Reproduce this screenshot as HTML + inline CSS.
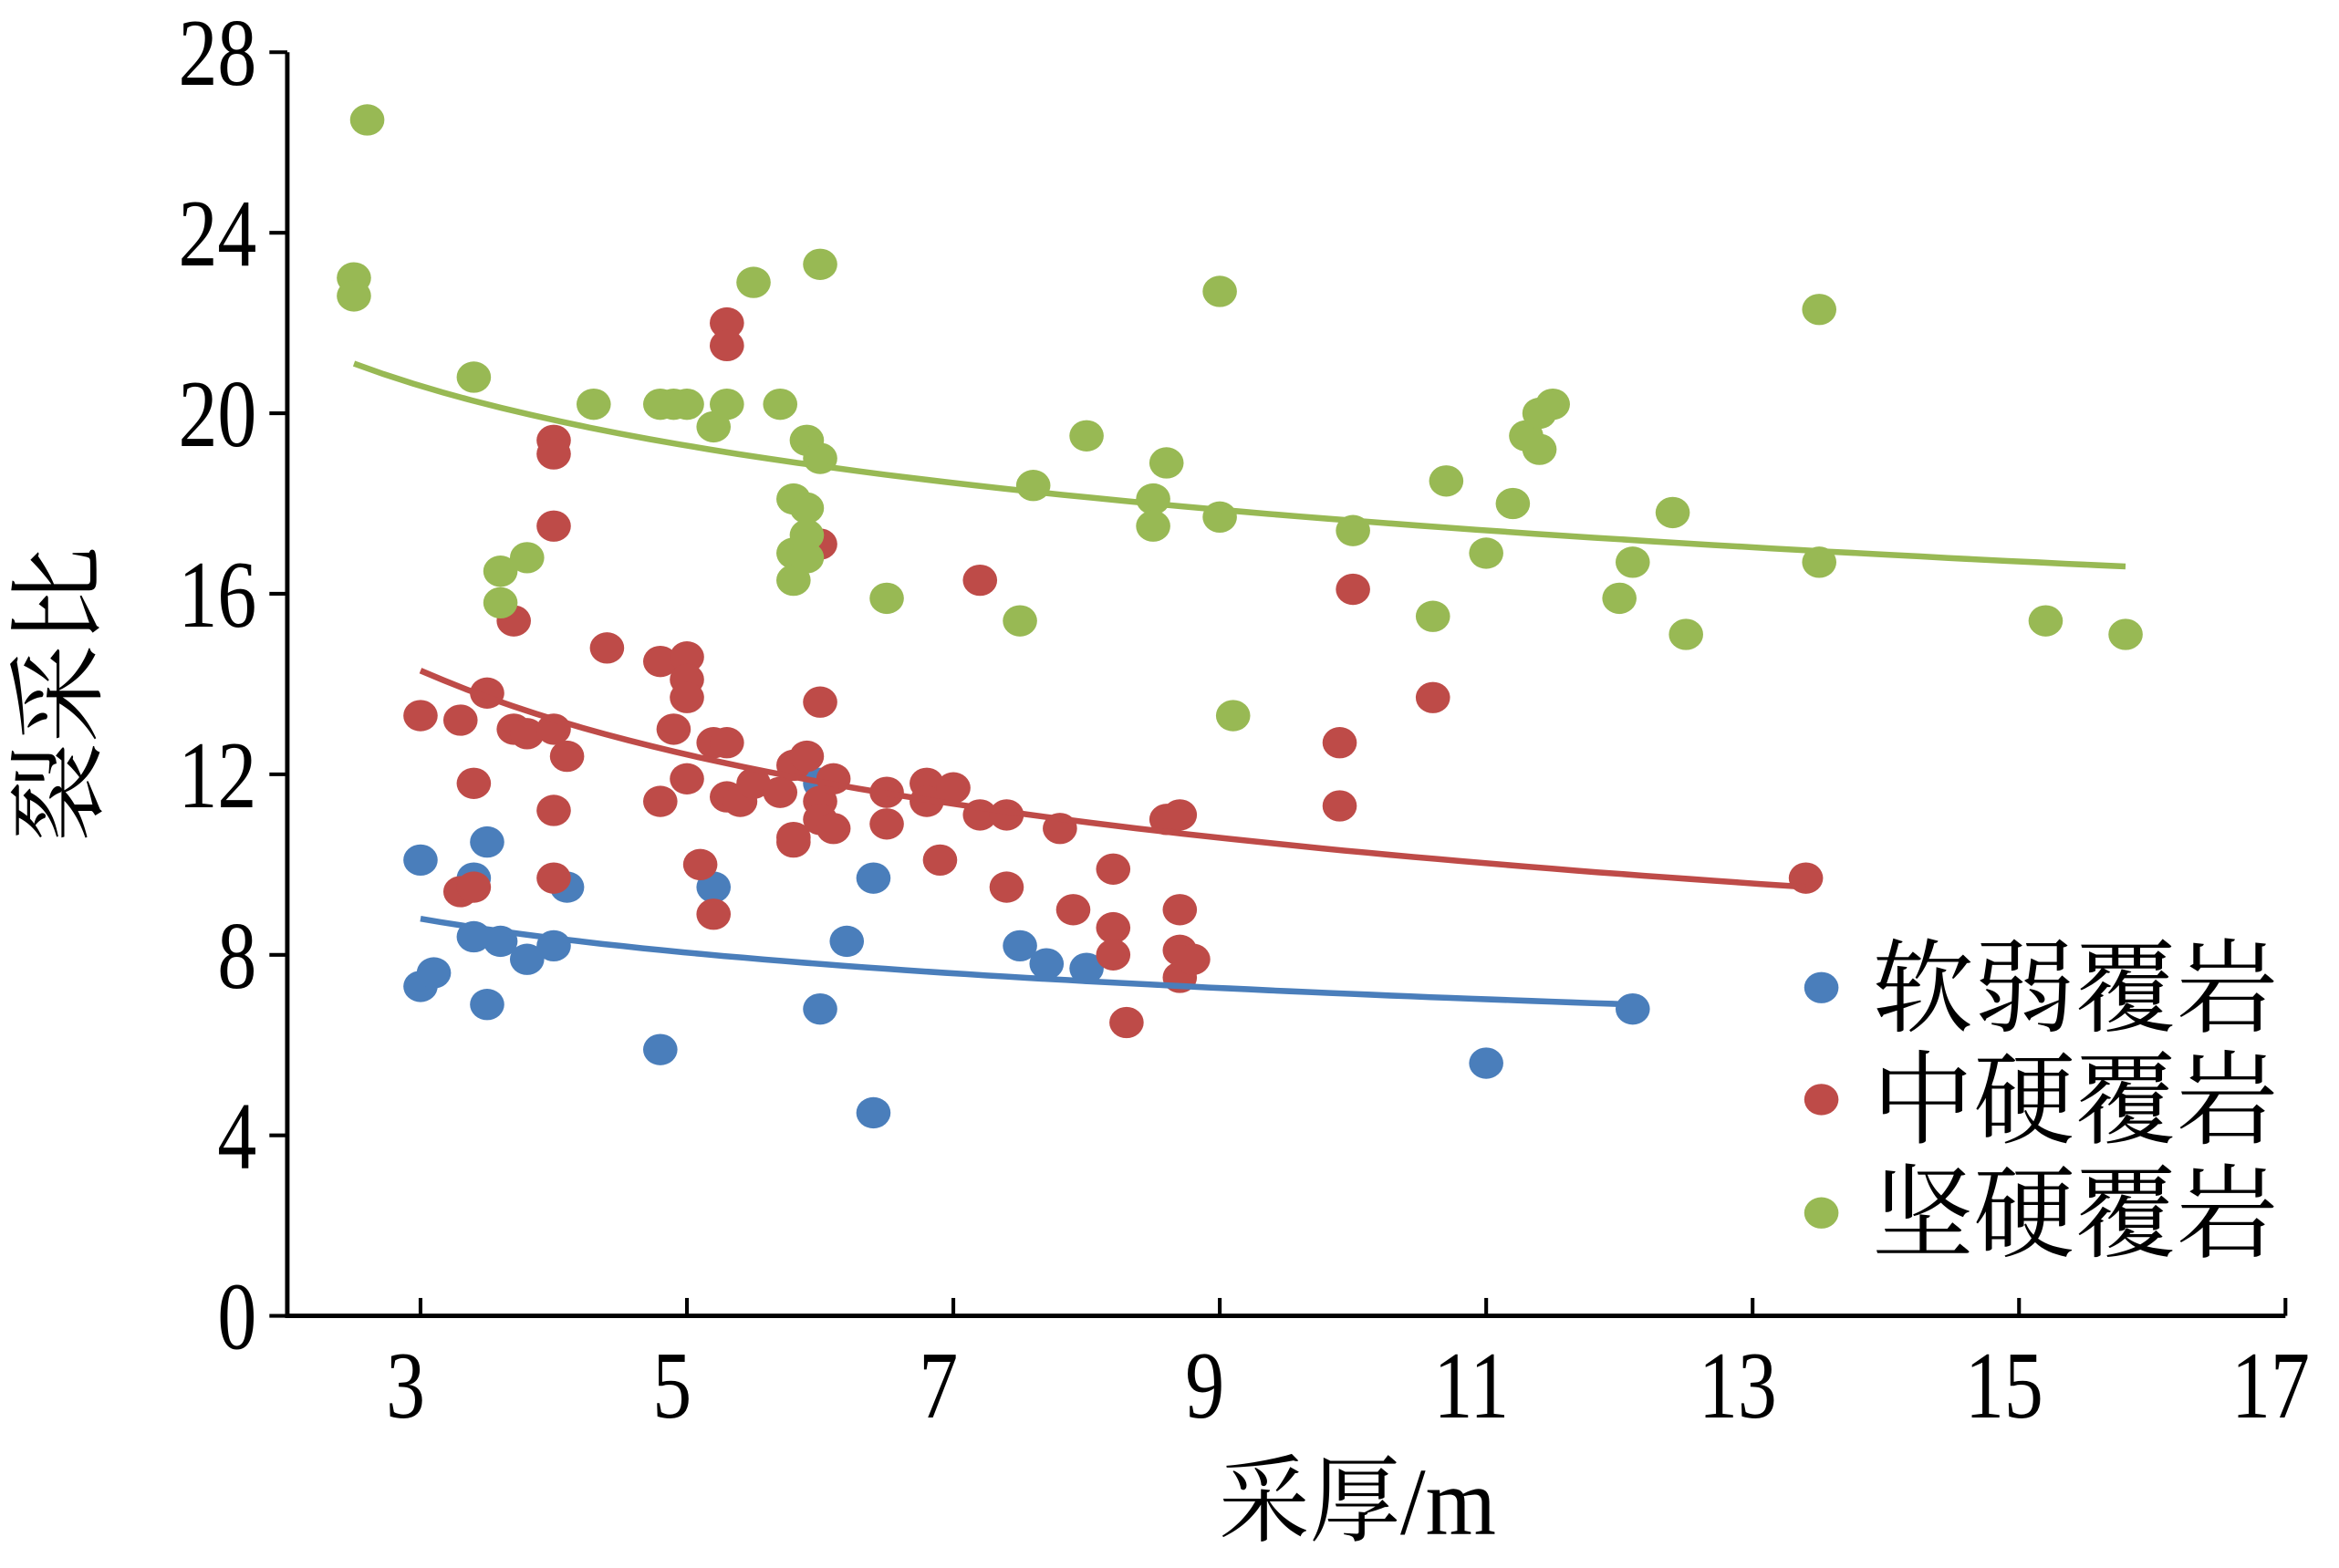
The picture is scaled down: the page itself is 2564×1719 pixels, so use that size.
<!DOCTYPE html>
<html><head><meta charset="utf-8"><style>
html,body{margin:0;padding:0;background:#fff;}
svg{display:block;}
text{font-family:"Liberation Serif","Noto Serif CJK SC",serif;fill:#000;}
</style></head><body>
<svg id="chart" width="2564" height="1719" viewBox="0 0 1568 1051" preserveAspectRatio="none" xmlns="http://www.w3.org/2000/svg"></svg>
<script>
const xTicks=[3,5,7,9,11,13,15,17];
const yTicks=[0,4,8,12,16,20,24,28];
const softX=[3,3,3.1,3.4,3.4,3.5,3.5,3.6,3.8,4,4.1,4.8,5.2,6,6,6.2,6.4,6.4,7.5,7.7,8,11,12.1];
const softY=[10.1,7.3,7.6,9.7,8.4,10.5,6.9,8.3,7.9,8.2,9.5,5.9,9.5,11.8,6.8,8.3,9.7,4.5,8.2,7.8,7.7,5.6,6.8];
const medX=[3,3.3,3.3,3.4,3.4,3.5,3.7,3.7,3.8,4,4,4,4,4,4,4.1,4.4,4.8,4.8,4.9,5,5,5,5,5.1,5.2,5.2,5.3,5.3,5.3,5.3,5.4,5.5,5.7,5.8,5.8,5.8,5.9,6,6,6,6,6.1,6.1,6.5,6.5,6.8,6.8,6.9,7,7.2,7.2,7.4,7.4,7.8,7.9,8.2,8.2,8.2,8.3,8.6,8.7,8.7,8.7,8.7,8.8,9.9,9.9,10,10.6,13.4];
const medY=[13.3,13.2,9.4,9.5,11.8,13.8,15.4,13,12.9,19.4,19.1,17.5,13,11.2,9.7,12.4,14.8,14.5,11.4,13,14.6,14.1,13.7,11.9,10,12.7,8.9,22,21.5,12.7,11.5,11.4,11.8,11.6,12.2,10.6,10.5,12.4,17.1,13.6,11.4,11,10.8,11.9,11.6,10.9,11.8,11.4,10.1,11.7,16.3,11.1,11.1,9.5,10.8,9,9.9,8.6,8,6.5,11,11.1,9,8.1,7.5,7.9,12.7,11.3,16.1,13.7,9.7];
const hardX=[2.5,2.5,2.6,3.4,3.6,3.6,3.8,4.3,4.8,4.9,5,5.2,5.3,5.5,5.7,5.8,5.8,5.8,5.9,5.9,5.9,5.9,6,6,6.5,7.5,7.6,8,8.5,8.5,8.6,9,9,9.1,10,10.6,10.7,11,11.2,11.3,11.4,11.4,11.5,12,12.1,12.4,12.5,13.5,13.5,15.2,15.8];
const hardY=[23,22.6,26.5,20.8,16.5,15.8,16.8,20.2,20.2,20.2,20.2,19.7,20.2,22.9,20.2,18.1,16.9,16.3,19.4,17.9,17.3,16.8,23.3,19,15.9,15.4,18.4,19.5,18.1,17.5,18.9,22.7,17.7,13.3,17.4,15.5,18.5,16.9,18,19.5,20,19.2,20.2,15.9,16.7,17.8,15.1,22.3,16.7,15.4,15.1];
const trendA=[10.66,19.3,23.77];
const trendB=[-0.1745,-0.273,-0.130];
const trendRange=[[3,12.1],[3,13.4],[2.5,15.8]];
const seriesNames=["软弱覆岩","中硬覆岩","坚硬覆岩"];
const colors=["#4a7ebb","#be4b48","#98b954"];

const NS="http://www.w3.org/2000/svg";
const svg=document.getElementById('chart');
const X0=192.6,Y0=882;
const sx=v=>X0+(v-2)*89.3;
const sy=v=>Y0-v*30.25;
function mk(tag,attrs){const e=document.createElementNS(NS,tag);for(const k in attrs)e.setAttribute(k,attrs[k]);svg.appendChild(e);return e;}

let ax=mk('path',{d:`M${sx(2)} ${sy(28)} V${Y0} H${sx(17)}`,stroke:'#000','stroke-width':3,fill:'none'});


yTicks.forEach(v=>{
  let t=mk('line',{x1:X0-12,x2:X0,y1:sy(v),y2:sy(v),stroke:'#000','stroke-width':2.5});
  
  
  let l=mk('text',{x:0,y:0,'text-anchor':'end','font-size':64,transform:`translate(172 ${sy(v)+22}) scale(0.82 1)`});
  l.textContent=v;
  
  
});
xTicks.forEach(v=>{
  let t=mk('line',{x1:sx(v),x2:sx(v),y1:Y0-12,y2:Y0,stroke:'#000','stroke-width':2.5});
  
  
  let l=mk('text',{x:0,y:0,'text-anchor':'middle','font-size':64,transform:`translate(${sx(v)-10} 950) scale(0.82 1)`});
  l.textContent=v;
  
  
});
let xt=mk('text',{x:0,y:0,'text-anchor':'middle','font-size':64,transform:'translate(910 1028) scale(0.95 1)'});
xt.textContent='采厚/m';


let yt=mk('text',{x:62,y:465,'text-anchor':'middle','font-size':66,transform:'rotate(-90 62 465)'});
yt.textContent='裂采比';



const XS=[softX,medX,hardX],YS=[softY,medY,hardY];
for(let s=0;s<3;s++){
  for(let i=0;i<XS[s].length;i++){
    let c=mk('ellipse',{cx:sx(XS[s][i]),cy:sy(YS[s][i]),rx:11.5,ry:10.5,fill:colors[s]});
    
    
  }
}
for(let s=0;s<3;s++){
  let pts=[];const [a,b]=trendRange[s];
  for(let k=0;k<=60;k++){const x=a+(b-a)*k/60;pts.push(sx(x).toFixed(1)+','+sy(trendA[s]*Math.pow(x,trendB[s])).toFixed(1));}
  let p=mk('polyline',{points:pts.join(' '),fill:'none',stroke:colors[s],'stroke-width':4});
  
  
}
const legY=[662,737,813];
for(let s=0;s<3;s++){
  let c=mk('ellipse',{cx:1221,cy:legY[s],rx:11.5,ry:10.5,fill:colors[s]});
  
  
  let t=mk('text',{x:1255,y:legY[s]+24,'font-size':68});
  t.textContent=seriesNames[s];
  
  
}
</script>
</body></html>
